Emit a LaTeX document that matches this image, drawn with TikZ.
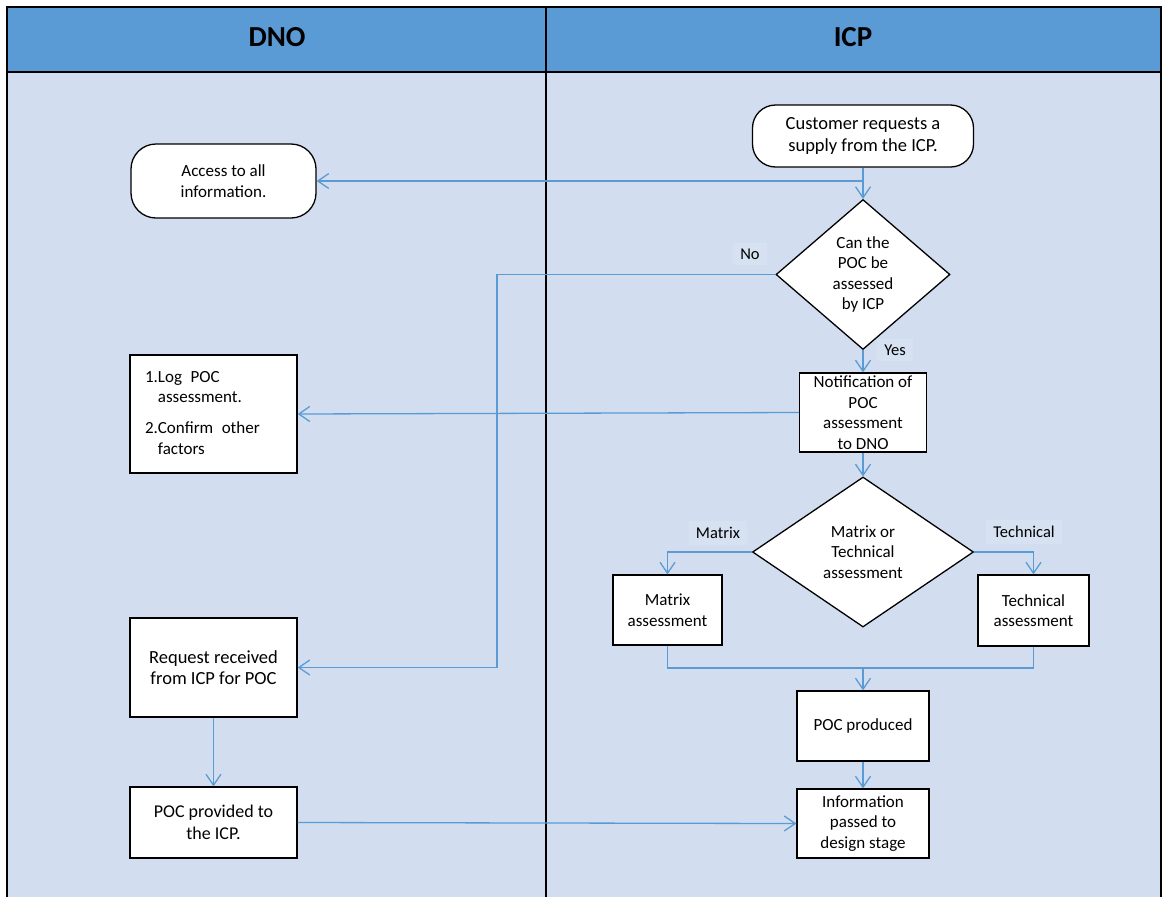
\documentclass[tikz,border=0pt]{standalone}
\usepackage{fontspec}
\setmainfont{Carlito}
\usetikzlibrary{arrows.meta,shapes.geometric}
\definecolor{hdr}{HTML}{5B9BD5}
\definecolor{lane}{HTML}{D2DEEF}
\definecolor{conn}{HTML}{5B9BD5}
\definecolor{lbl}{HTML}{D6E1F1}
\begin{document}
\begin{tikzpicture}[x=1pt,y=-1pt,
  txt/.style={font=\fontsize{17}{20.5}\selectfont},
  bigtxt/.style={font=\fontsize{18.5}{21.5}\selectfont},
  box/.style={txt, draw=black, fill=white, line width=1.3pt, align=center, inner sep=0pt},
  rbox/.style={box, rounded corners=25pt},
  dia/.style={box, shape=diamond},
  lab/.style={font=\fontsize{16.5}{20}\selectfont, fill=lbl, inner xsep=7pt, inner ysep=6pt},
  hd/.style={font=\fontsize{29}{32}\selectfont\bfseries},
  link/.style={draw=conn, line width=1.3pt},
  arr/.style={link, -{Straight Barb[length=11pt,width=15pt]}}
]
\useasboundingbox (0,0) rectangle (1166,897);
% lanes
\fill[lane] (7,72) rectangle (1161,897);
\fill[hdr] (7,7) rectangle (1161,72);
\draw[line width=1.3pt] (7,897) -- (7,7) -- (1161,7) -- (1161,897);
\draw[line width=1.3pt] (7,72) -- (1161,72);
\draw[line width=1.3pt] (546,7) -- (546,897);
\node[hd] (hdno) at (277,37) {DNO};
\node[hd] (hicp) at (853,37) {ICP};

% nodes
\node[rbox, minimum width=185, minimum height=74] (access) at (223.5,181) {Access to all\\information.};
\node[rbox, bigtxt, minimum width=221, minimum height=62, rounded corners=23pt] (cust) at (863,136) {Customer requests a\\supply from the ICP.};
\node[dia, aspect=1.16, minimum width=174, minimum height=150] (q1) at (863,274.5) {Can the\\POC be\\assessed\\by ICP};
\node[box, minimum width=167, minimum height=118, text width=137, align=left] (log) at (213.5,414)
  {\begin{tabular}{@{}l@{}l@{}}1.&Log\enspace POC\\&assessment.\\[10.5pt]2.&Confirm\enspace other\\&factors\end{tabular}};
\node[box, minimum width=127, minimum height=79] (notif) at (863,412.5) {Notification of\\POC\\assessment\\to DNO};
\node[dia, aspect=1.47, minimum width=221, minimum height=150] (q2) at (863,552) {Matrix or\\Technical\\assessment};
\node[box, minimum width=109, minimum height=70] (matrix) at (667.5,610) {Matrix\\assessment};
\node[box, minimum width=111, minimum height=71] (tech) at (1033.5,610.5) {Technical\\assessment};
\node[box, minimum width=132, minimum height=70] (pocp) at (863,726) {POC produced};
\node[box, minimum width=132, minimum height=69] (info) at (863,823.5) {Information\\passed to\\design stage};
\node[box, bigtxt, minimum width=167, minimum height=99] (req) at (213.5,667.5) {Request received\\from ICP for POC};
\node[box, font=\fontsize{18}{21.5}\selectfont, minimum width=167, minimum height=71] (prov) at (213.5,822.5) {POC provided to\\the ICP.};

% connectors
\draw[arr] (cust.south) -- (q1.north);
\draw[arr] (cust.south |- access.east) -- (access.east);
\coordinate (nobend) at (497,400);
\draw[arr] (q1.west) -| (nobend) |- (req.east);
\draw[arr] (q1.south) -- (notif.north);
\draw[arr] (notif.west) -- (log.east);
\draw[arr] (notif.south) -- (q2.north);
\draw[arr] (q2.west) -| (matrix.north);
\draw[arr] (q2.east) -| (tech.north);
\coordinate (merge) at (863,668);
\draw[link] (matrix.south) |- (merge) -| (tech.south);
\draw[arr] (merge) -- (pocp.north);
\draw[arr] (pocp.south) -- (info.north);
\draw[arr] (req.south) -- (prov.north);
\draw[arr] (prov.east) -- (info.west);

% labels
\node[lab] (lno) at (750,254) {No};
\node[lab] (lyes) at (895,350) {Yes};
\node[lab] (lmat) at (718,533) {Matrix};
\node[lab] (ltech) at (1024,532) {Technical};
\end{tikzpicture}
\end{document}
